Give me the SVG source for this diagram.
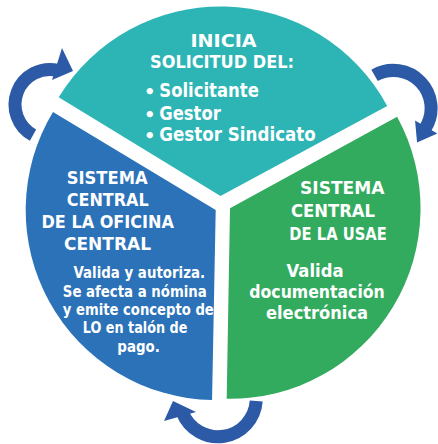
<svg xmlns="http://www.w3.org/2000/svg" width="438" height="444" viewBox="0 0 438 444">
<style>
.t{font-family:"DejaVu Sans",Verdana,sans-serif;font-weight:bold;fill:#fff}
.h{font-size:18.5px}
.s{font-size:19px}
.u{font-size:18px}
.b{font-size:16px}
.conn path{fill:none;stroke:#2D5AA7;stroke-width:13}
.conn polygon{fill:#2D5AA7}
</style>
<rect width="438" height="444" fill="#fff"/>
<g id="node-inicia">
<path d="M220.5,196 L58.7,97.3 A189.5,189.5 0 0 1 387.2,105.9 Z" fill="#2DB5B5"/>
<text class="t h" x="190.5" y="46.7" textLength="66" lengthAdjust="spacingAndGlyphs">INICIA</text>
<text class="t h" x="150" y="68.3" textLength="144" lengthAdjust="spacingAndGlyphs">SOLICITUD DEL:</text>
<text class="t u" x="149.7" y="98.3" text-anchor="middle">•</text>
<text class="t u" x="149.7" y="120.8" text-anchor="middle">•</text>
<text class="t u" x="149.7" y="142.3" text-anchor="middle">•</text>
<text class="t s" x="159.3" y="97.3" textLength="99.5" lengthAdjust="spacingAndGlyphs">Solicitante</text>
<text class="t s" x="159.3" y="119.8" textLength="61.5" lengthAdjust="spacingAndGlyphs">Gestor</text>
<text class="t s" x="159.3" y="141.2" textLength="156.5" lengthAdjust="spacingAndGlyphs">Gestor  Sindicato</text>
</g>
<g id="node-oficina">
<path d="M215.7,210 L212.05,400 A190,190 0 0 1 53,111.9 Z" fill="#2B72B8"/>
<text class="t h" x="66.7" y="184" textLength="81" lengthAdjust="spacingAndGlyphs">SISTEMA</text>
<text class="t h" x="66.7" y="205.5" textLength="82" lengthAdjust="spacingAndGlyphs">CENTRAL</text>
<text class="t h" x="41.5" y="228.3" textLength="132.5" lengthAdjust="spacingAndGlyphs">DE LA OFICINA</text>
<text class="t h" x="64" y="250" textLength="87" lengthAdjust="spacingAndGlyphs">CENTRAL</text>
<text class="t b" x="73.5" y="278" textLength="131.5" lengthAdjust="spacingAndGlyphs">Valida y autoriza.</text>
<text class="t b" x="62.8" y="296.5" textLength="144" lengthAdjust="spacingAndGlyphs">Se afecta a nómina</text>
<text class="t b" x="62.8" y="315" textLength="151" lengthAdjust="spacingAndGlyphs">y emite concepto de</text>
<text class="t b" x="82.8" y="333.3" textLength="104.5" lengthAdjust="spacingAndGlyphs">LO en talón de</text>
<text class="t b" x="117.3" y="351.5" textLength="42.5" lengthAdjust="spacingAndGlyphs">pago.</text>
</g>
<g id="node-usae">
<path d="M230,208.3 L397.1,116.8 A190.5,190.5 0 0 1 226.7,398.8 Z" fill="#33AB5F"/>
<text class="t h" x="300" y="194" textLength="84.5" lengthAdjust="spacingAndGlyphs">SISTEMA</text>
<text class="t h" x="291" y="217" textLength="84" lengthAdjust="spacingAndGlyphs">CENTRAL</text>
<text class="t h" x="289.3" y="240" textLength="97.5" lengthAdjust="spacingAndGlyphs">DE LA USAE</text>
<text class="t h" x="286.5" y="276.7" textLength="57" lengthAdjust="spacingAndGlyphs">Valida</text>
<text class="t h" x="249.3" y="298.3" textLength="135.5" lengthAdjust="spacingAndGlyphs">documentación</text>
<text class="t h" x="266" y="319" textLength="102" lengthAdjust="spacingAndGlyphs">electrónica</text>
</g>
<g id="connectors" class="conn">
<path d="M33.03,135.11 A35,35 0 0 1 57.87,70.4"/>
<polygon points="62,48 73,71 52,80"/>
<path d="M374.55,75.45 A37.7,37.7 0 0 1 425.37,128.08"/>
<polygon points="415.05,120.6 437.3,133.45 417.05,142.5"/>
<path d="M256.21,401.07 A38.3,38.3 0 0 1 182.49,412.75"/>
<polygon points="173,401 164,421 196,412"/>
</g>
</svg>
